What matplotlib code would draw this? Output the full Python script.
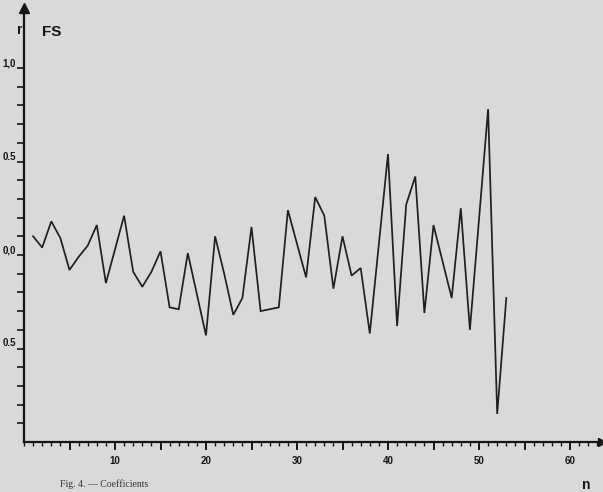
import matplotlib
matplotlib.use('Agg')
import matplotlib.pyplot as plt
from matplotlib.ticker import FixedLocator, MultipleLocator
import numpy as np

# data
n_values = [1, 2, 3, 4, 5, 6, 7, 8, 9, 10, 11, 12, 13, 14, 15, 16, 17, 18,
            20, 21, 22, 23, 24, 25, 26, 28, 29, 31, 32, 33, 34, 35, 36, 37, 38,
            40, 41, 42, 43, 44, 45, 47, 48, 49, 51, 52, 53]
r_values = [0.10, 0.04, 0.18, 0.09, -0.08, -0.01, 0.05, 0.16, -0.15, 0.03, 0.21,
            -0.09, -0.17, -0.09, 0.02, -0.28, -0.29, 0.01,
            -0.43, 0.10, -0.10, -0.32, -0.23, 0.15, -0.30, -0.28, 0.24, -0.12,
            0.31, 0.21, -0.18, 0.10, -0.11, -0.07, -0.42,
            0.54, -0.38, 0.27, 0.42, -0.31, 0.16, -0.23, 0.25, -0.40,
            0.78, -0.85, -0.23]

x_major_ticks = [5, 10, 15, 20, 25, 30, 35, 40, 45, 50, 55, 60]
x_major_labels = ['', '10', '', '20', '', '30', '', '40', '', '50', '', '60']
y_major_ticks = [-0.5, 0.0, 0.5, 1.0]
y_major_labels = ['0.5', '0,0', '0.5', '1,0']
y_minor_ticks = [-0.9, -0.8, -0.7, -0.6, -0.4, -0.3, -0.2, -0.1,
                 0.1, 0.2, 0.3, 0.4, 0.6, 0.7, 0.8, 0.9]

W, H = 603, 492
bg = '#d9d9d9'
ink = '#151515'

plt.rcParams['font.family'] = ['Liberation Sans', 'DejaVu Sans']

fig = plt.figure(figsize=(W / 100, H / 100), dpi=100, facecolor=bg)
ax = fig.add_axes([24 / W, 50 / H, 578 / W, 434 / H])
ax.set_facecolor(bg)
ax.set_xlim(0, 578 / 9.1)
ax.set_ylim(-1.0, -1.0 + 434 / 187)

ax.plot(n_values, r_values, color='#1f1f1f', lw=1.25, solid_joinstyle='miter')

for s in ['top', 'right']:
    ax.spines[s].set_visible(False)
for s in ['left', 'bottom']:
    ax.spines[s].set_color(ink)
    ax.spines[s].set_linewidth(1.6)

ax.xaxis.set_major_locator(FixedLocator(x_major_ticks))
ax.set_xticklabels(x_major_labels)
ax.xaxis.set_minor_locator(MultipleLocator(1))
ax.yaxis.set_major_locator(FixedLocator(y_major_ticks))
ax.set_yticklabels(y_major_labels)
ax.yaxis.set_minor_locator(FixedLocator(y_minor_ticks))

ax.tick_params(axis='x', which='major', length=6, width=1.4, color=ink,
               direction='out', pad=4, labelsize=7, labelcolor=ink)
ax.tick_params(axis='x', which='minor', length=3, width=1.0, color=ink, direction='out')
ax.tick_params(axis='y', which='both', length=5, width=1.2, color=ink,
               direction='out', pad=1, labelsize=7, labelcolor=ink)
for lab in ax.get_xticklabels() + ax.get_yticklabels():
    lab.set_fontweight('bold')
for lab in ax.get_yticklabels():
    lab.set_va('bottom')

# arrow heads
ax.plot([0], [ax.get_ylim()[1]], marker='^', ms=7, color=ink, clip_on=False)
ax.plot([ax.get_xlim()[1]], [-1.0], marker='>', ms=6, color=ink, clip_on=False)

fig.text(20 / W, 1 - 30 / H, 'r', fontsize=10, fontweight='bold', color=ink,
         ha='center', va='center')
fig.text(42 / W, 1 - 32 / H, 'FS', fontsize=11, fontweight='bold', color=ink,
         ha='left', va='center')
fig.text(586 / W, 1 - 485 / H, 'n', fontsize=10, fontweight='bold', color=ink,
         ha='center', va='center')
fig.text(60 / W, 1 - 484 / H, 'Fig. 4. — Coefficients', fontsize=7, color='#333333',
         ha='left', va='center', family='Liberation Serif')

fig.savefig('out.png', dpi=100, facecolor=bg)
